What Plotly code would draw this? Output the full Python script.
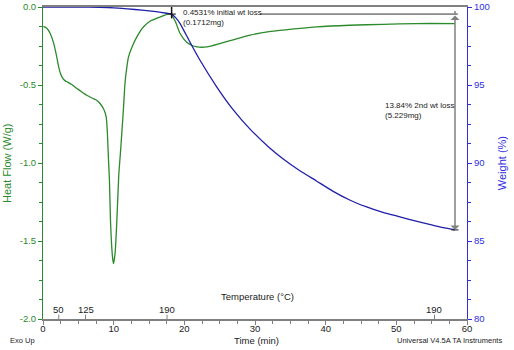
import plotly.graph_objects as go

# ---- data ----
hf_time = [0.05, 0.5, 1.0, 1.5, 1.9, 2.2, 2.5, 2.8, 3.1, 3.5, 4.0, 4.8, 5.5, 6.2, 7.0, 7.6,
           8.1, 8.6, 8.94, 9.1, 9.27, 9.4, 9.55, 9.83, 9.97, 10.2, 10.45, 10.72, 10.95,
           11.15, 11.4, 11.6, 11.85, 12.1, 12.6, 13.3, 14.2, 15.2, 16.6, 18.0, 18.7,
           19.4, 20.3, 21.0, 21.8, 23.2, 25.0, 26.9, 29.3, 32.0, 34.0, 38.7, 43.4,
           48.1, 52.8, 58.3]
heat_flow = [-0.124, -0.135, -0.168, -0.23, -0.31, -0.38, -0.43, -0.458, -0.472, -0.482,
             -0.495, -0.523, -0.545, -0.566, -0.585, -0.598, -0.62, -0.655, -0.705, -0.80,
             -0.98, -1.11, -1.37, -1.60, -1.645, -1.58, -1.37, -1.08, -0.94, -0.81, -0.64,
             -0.49, -0.39, -0.32, -0.256, -0.19, -0.128, -0.09, -0.064, -0.043, -0.09,
             -0.17, -0.225, -0.245, -0.256, -0.256, -0.235, -0.21, -0.18, -0.158, -0.148,
             -0.128, -0.117, -0.111, -0.106, -0.106]

wt_time = [0, 5, 8, 10, 12, 14, 16, 17.5, 18.2, 18.8, 19.4, 20.8, 22.2, 24.6,
           26.9, 29.3, 32, 34, 36.3, 38.7, 41, 43.4, 45.7, 48.1, 50.5,
           52.8, 55.5, 58.3]
weight = [100, 100, 99.98, 99.95, 99.88, 99.8, 99.7, 99.6, 99.547, 99.3, 98.94, 97.75,
          96.6, 94.87, 93.42, 92.17, 91.0, 90.26, 89.52, 88.85, 88.2, 87.63, 87.2, 86.83,
          86.55, 86.27, 85.97, 85.71]

x_ticks = [0, 10, 20, 30, 40, 50, 60]
hf_ticks = [0.0, -0.5, -1.0, -1.5, -2.0]
hf_tick_labels = ["0.0", "-0.5", "-1.0", "-1.5", "-2.0"]
wt_ticks = [100, 95, 90, 85, 80]
temp_time = [2.23, 6.02, 17.55, 55.4]
temp_labels = ["50", "125", "190", "190"]

step1_time = 18.2
step1_weight = 99.547
step2_time = 58.3
step2_weight = 85.71

GREEN = "#2b8a2b"
BLUE_LINE = "#1f1fa8"
BLUE_AX = "#2f2fe0"
GRAY = "#808080"
TXT = "#222222"
FONT = "Liberation Sans, Arial, sans-serif"

fig = go.Figure()
fig.add_trace(go.Scatter(x=hf_time, y=heat_flow, mode="lines",
                         line=dict(color=GREEN, width=1.3, shape="spline", smoothing=0.6),
                         yaxis="y", showlegend=False, hoverinfo="skip"))
fig.add_trace(go.Scatter(x=wt_time, y=weight, mode="lines",
                         line=dict(color=BLUE_LINE, width=1.3, shape="spline", smoothing=0.5),
                         yaxis="y2", showlegend=False, hoverinfo="skip"))

shapes = []
# horizontal level line of first step
shapes.append(dict(type="line", xref="x", yref="y2", x0=30.7, x1=step2_time + 0.4,
                   y0=step1_weight, y1=step1_weight, line=dict(color="#333333", width=1)))
# cross marker at first step
shapes.append(dict(type="line", xref="x", yref="y2", x0=step1_time, x1=step1_time,
                   y0=100.0, y1=99.27, line=dict(color="#111111", width=1.5)))
shapes.append(dict(type="line", xref="x", yref="y2", x0=step1_time - 0.6, x1=step1_time + 0.6,
                   y0=step1_weight, y1=step1_weight, line=dict(color="#111111", width=1)))
# small extension of vertical above level line
shapes.append(dict(type="line", xref="x", yref="y2", x0=step2_time, x1=step2_time,
                   y0=99.75, y1=step1_weight, line=dict(color=GRAY, width=1.5)))
# small black end tick at bottom of arrow
shapes.append(dict(type="line", xref="x", yref="y2", x0=step2_time - 0.5, x1=step2_time + 0.5,
                   y0=step2_weight, y1=step2_weight, line=dict(color="#111111", width=1)))
# temperature ticks
for t in temp_time:
    shapes.append(dict(type="line", xref="x", yref="paper", x0=t, x1=t, y0=0, y1=0.014,
                       line=dict(color=GRAY, width=1)))

annotations = []
annotations.append(dict(x=step2_time, y=step2_weight, xref="x", yref="y2",
                        ax=step2_time, ay=step1_weight, axref="x", ayref="y2",
                        showarrow=True, arrowside="end+start", arrowhead=1, startarrowhead=1,
                        arrowsize=1.0, startarrowsize=1.0, arrowwidth=1.5, arrowcolor=GRAY,
                        text=""))
annotations.append(dict(x=19.55, y=0.965, xref="x", yref="paper", xanchor="left",
                        yanchor="middle", align="left", showarrow=False,
                        text="0.4531% initial wt loss<br>(0.1712mg)",
                        font=dict(size=8, color=TXT, family=FONT)))
annotations.append(dict(x=48.07, y=0.667, xref="x", yref="paper", xanchor="left",
                        yanchor="middle", align="left", showarrow=False,
                        text="13.84% 2nd wt loss<br>(5.229mg)",
                        font=dict(size=8, color=TXT, family=FONT)))
for t, lab in zip(temp_time, temp_labels):
    annotations.append(dict(x=t, y=0.029, xref="x", yref="paper", xanchor="center",
                            yanchor="middle", showarrow=False, text=lab,
                            font=dict(size=9.5, color=TXT, family=FONT)))
annotations.append(dict(x=0.507, y=0.071, xref="paper", yref="paper", showarrow=False,
                        xanchor="center", yanchor="middle",
                        text="Temperature (°C)", font=dict(size=9.5, color=TXT, family=FONT)))
annotations.append(dict(x=0.503, y=-0.0705, xref="paper", yref="paper", showarrow=False,
                        xanchor="center", yanchor="middle",
                        text="Time (min)", font=dict(size=9.5, color=TXT, family=FONT)))
annotations.append(dict(x=-0.048, y=-0.0705, xref="paper", yref="paper", showarrow=False,
                        xanchor="center", yanchor="middle",
                        text="Exo Up", font=dict(size=7.5, color=TXT, family=FONT)))
annotations.append(dict(x=1.088, y=-0.0705, xref="paper", yref="paper", showarrow=False,
                        xanchor="right", yanchor="middle", text="Universal V4.5A TA Instruments",
                        font=dict(size=7.5, color=TXT, family=FONT)))
annotations.append(dict(x=-0.085, y=0.5, xref="paper", yref="paper", showarrow=False,
                        xanchor="center", yanchor="middle",
                        textangle=-90, text="Heat Flow (W/g)",
                        font=dict(size=11, color=GREEN, family=FONT)))
annotations.append(dict(x=1.083, y=0.5, xref="paper", yref="paper", showarrow=False,
                        xanchor="center", yanchor="middle",
                        textangle=-90, text="Weight (%)",
                        font=dict(size=11, color=BLUE_AX, family=FONT)))

fig.update_layout(
    width=514, height=350,
    margin=dict(l=43, r=47, t=7, b=31, pad=0, autoexpand=False),
    paper_bgcolor="white", plot_bgcolor="white",
    font=dict(family=FONT, size=9.5, color=TXT),
    showlegend=False,
    shapes=shapes, annotations=annotations,
    xaxis=dict(range=[0, 60], tickvals=x_ticks, showgrid=False, zeroline=False,
               automargin=False, ticklabelstandoff=-4,
               showline=True, linecolor=GRAY, linewidth=2, mirror=True,
               ticks="outside", ticklen=4, tickcolor=GRAY, tickwidth=1,
               minor=dict(dtick=2.5, ticks="outside", ticklen=3, tickcolor=GRAY),
               tickfont=dict(size=9.5, color=TXT, family=FONT)),
    yaxis=dict(range=[-2.0, 0.0], tickvals=hf_ticks, ticktext=hf_tick_labels,
               automargin=False,
               showgrid=False, zeroline=False, showline=True, linecolor=GREEN, linewidth=1,
               ticks="outside", ticklen=4, tickcolor=GREEN,
               minor=dict(dtick=0.125, ticks="outside", ticklen=3, tickcolor=GREEN),
               tickfont=dict(size=9.5, color=GREEN, family=FONT)),
    yaxis2=dict(range=[80, 100], tickvals=wt_ticks, overlaying="y", side="right",
                automargin=False,
                showgrid=False, zeroline=False, showline=True, linecolor=BLUE_AX, linewidth=1,
                ticks="outside", ticklen=4, tickcolor=BLUE_AX,
                minor=dict(dtick=1.25, ticks="outside", ticklen=3, tickcolor=BLUE_AX),
                tickfont=dict(size=9.5, color=BLUE_AX, family=FONT)),
)

fig.write_html("out.html", config={"displayModeBar": False},
               post_script="document.body.style.margin='0px';")
